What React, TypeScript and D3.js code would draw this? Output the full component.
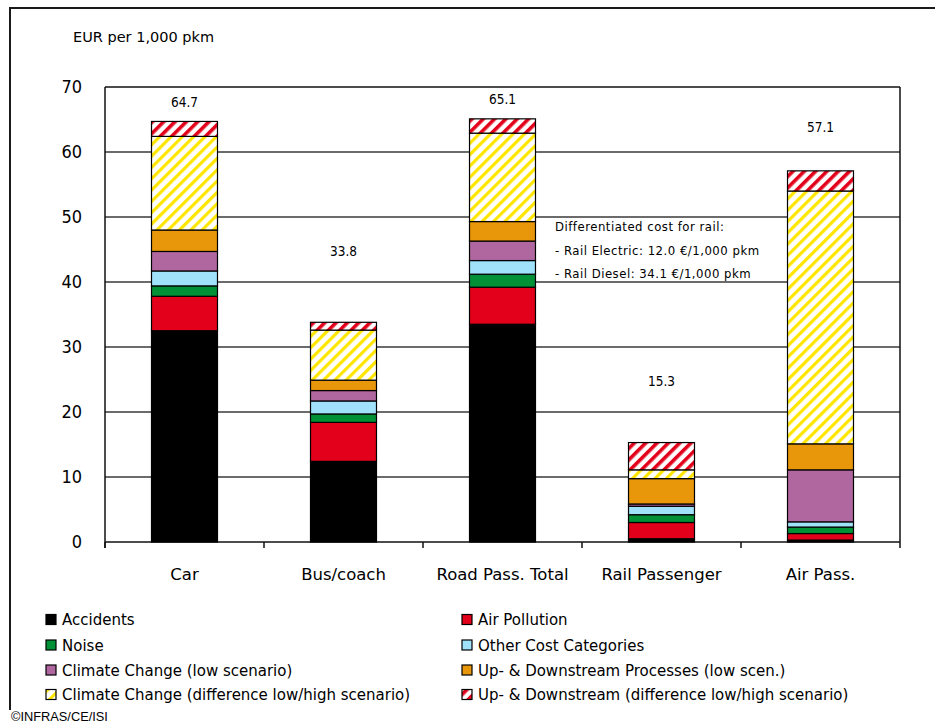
import React from "react";
import * as d3 from "d3";

const categories = ["Car", "Bus/coach", "Road Pass. Total", "Rail Passenger", "Air Pass."];
const accidents = [32.5, 12.4, 33.5, 0.5, 0.3];
const airPollution = [5.3, 6.0, 5.7, 2.5, 1.0];
const noise = [1.6, 1.3, 2.0, 1.2, 1.0];
const otherCosts = [2.3, 2.0, 2.1, 1.3, 0.8];
const climateLow = [3.0, 1.6, 3.0, 0.35, 8.0];
const upDownLow = [3.3, 1.6, 3.0, 3.9, 4.0];
const climateDiff = [14.4, 7.7, 13.6, 1.35, 38.9];
const upDownDiff = [2.3, 1.2, 2.2, 4.2, 3.1];
const totalLabels = ["64.7", "33.8", "65.1", "15.3", "57.1"];
const totalLabelAt = [67.7, 44.8, 68.2, 24.8, 63.9];
const yTicks = [0, 10, 20, 30, 40, 50, 60, 70];
const seriesNames = [
  "Accidents",
  "Air Pollution",
  "Noise",
  "Other Cost Categories",
  "Climate Change (low scenario)",
  "Up- & Downstream Processes (low scen.)",
  "Climate Change (difference low/high scenario)",
  "Up- & Downstream (difference low/high scenario)",
];
const railNote = [
  "Differentiated cost for rail:",
  "- Rail Electric: 12.0 €/1,000 pkm",
  "- Rail Diesel: 34.1 €/1,000 pkm",
];

const FONT_C = "'DejaVu Sans Condensed', 'DejaVu Sans', sans-serif";
const FONT = "'DejaVu Sans', sans-serif";
const fills = ["#000000", "#e2001a", "#009036", "#9fe2fa", "#b0679f", "#e8960a", "url(#hatchYellow)", "url(#hatchRed)"];

export default function App() {
  const W = 935, H = 722;
  const left = 105, right = 900, top = 87, bottom = 542;
  const x = d3.scaleBand<string>().domain(categories).range([left, right]).paddingInner(0.585).paddingOuter(0.2925);
  const y = d3.scaleLinear().domain([0, 70]).range([bottom, top]);

  const rows = categories.map((c, i) => ({
    cat: c,
    s0: accidents[i], s1: airPollution[i], s2: noise[i], s3: otherCosts[i],
    s4: climateLow[i], s5: upDownLow[i], s6: climateDiff[i], s7: upDownDiff[i],
  }));
  const keys = ["s0", "s1", "s2", "s3", "s4", "s5", "s6", "s7"];
  const stacked = d3.stack<any>().keys(keys)(rows);

  const step = x.step();
  const boundaries = d3.range(categories.length + 1).map((i) => left + i * step);

  const legendCols = [46, 462];
  const legendRows = [620, 645.5, 670.5, 695];

  return (
    <svg width={W} height={H} style={{ position: "absolute", left: 0, top: 0, background: "#fff" }} fontFamily={FONT}>
      <defs>
        <pattern id="hatchYellow" patternUnits="userSpaceOnUse" width="8" height="8" patternTransform="rotate(45)">
          <rect width="8" height="8" fill="#fff" />
          <rect width="3.2" height="8" fill="#ffe600" />
        </pattern>
        <pattern id="hatchRed" patternUnits="userSpaceOnUse" width="8" height="8" patternTransform="rotate(45)">
          <rect width="8" height="8" fill="#fff" />
          <rect width="3.6" height="8" fill="#e2001a" />
        </pattern>
      </defs>
      <rect x={0} y={0} width={W} height={H} fill="#fff" />
      {/* outer frame */}
      <rect x={10} y={8} width={W + 20} height={H + 20} fill="none" stroke="#1a1a1a" strokeWidth={2} />

      <text x={73} y={42} fontSize={14.5} fill="#000">EUR per 1,000 pkm</text>

      {/* grid lines */}
      {yTicks.filter((t) => t > 0 && t < 70).map((t) => (
        <line key={t} x1={left} x2={right} y1={y(t)} y2={y(t)} stroke="#3a3a3a" strokeWidth={1.5} />
      ))}
      {/* plot frame */}
      <line x1={left} x2={right} y1={y(70)} y2={y(70)} stroke="#111" strokeWidth={1.5} />
      <line x1={right} x2={right} y1={y(70)} y2={bottom} stroke="#111" strokeWidth={1.5} />
      <line x1={left} x2={left} y1={y(70)} y2={bottom + 6} stroke="#111" strokeWidth={1.5} />
      <line x1={left} x2={right} y1={bottom} y2={bottom} stroke="#111" strokeWidth={1.5} />
      {boundaries.map((bx, i) => (
        <line key={i} x1={bx} x2={bx} y1={bottom} y2={bottom + 6} stroke="#111" strokeWidth={1.5} />
      ))}
      {yTicks.map((t) => (
        <text key={t} x={82} y={y(t)} dy="0.36em" textAnchor="end" fontSize={18} fontFamily={FONT_C} fill="#000">{t}</text>
      ))}

      {/* bars */}
      {stacked.map((layer, li) => (
        <g key={li}>
          {layer.map((d: any, i: number) => (
            <rect
              key={i}
              x={x(categories[i])}
              width={x.bandwidth()}
              y={y(d[1])}
              height={Math.max(0, y(d[0]) - y(d[1]))}
              fill={fills[li]}
              stroke="#000"
              strokeWidth={1.2}
            />
          ))}
        </g>
      ))}

      {/* total labels */}
      {categories.map((c, i) => (
        <text key={c} x={(x(c) as number) + x.bandwidth() / 2} y={y(totalLabelAt[i])} dy="0.36em" textAnchor="middle" fontSize={13.5} fontFamily={FONT_C} fill="#000">
          {totalLabels[i]}
        </text>
      ))}

      {/* rail note */}
      {railNote.map((t, i) => (
        <text key={i} x={555} y={231 + i * 23.5} fontSize={13} fontFamily={FONT_C} letterSpacing={0.5} fill="#000">{t}</text>
      ))}

      {/* category labels */}
      {categories.map((c) => (
        <text key={c} x={(x(c) as number) + x.bandwidth() / 2} y={580} textAnchor="middle" fontSize={16.5} fill="#000">{c}</text>
      ))}

      {/* legend */}
      {seriesNames.map((n, i) => {
        const col = i % 2;
        const row = Math.floor(i / 2);
        const lx = legendCols[col];
        const ly = legendRows[row];
        return (
          <g key={n}>
            <rect x={lx} y={ly - 5.5} width={10} height={10} fill={fills[i]} stroke="#000" strokeWidth={1.2} />
            <text x={lx + 16} y={ly} dy="0.36em" fontSize={15} fill="#000">{n}</text>
          </g>
        );
      })}

      {/* copyright */}
      <rect x={9} y={710} width={104} height={13} fill="#fff" />
      <text x={11} y={720.5} fontSize={12.8} fontFamily="'Liberation Sans', Arial, sans-serif" fill="#000">©INFRAS/CE/ISI</text>
    </svg>
  );
}
